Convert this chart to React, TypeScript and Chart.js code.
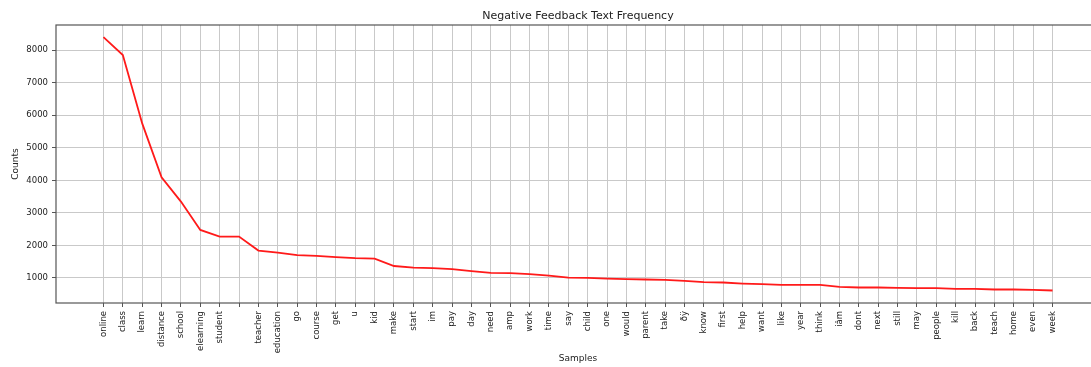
import { useEffect, useRef } from "react";
import { Chart, registerables } from "chart.js";

Chart.register(...registerables);

const chartTitle = "Negative Feedback Text Frequency";
const xAxisLabel = "Samples";
const yAxisLabel = "Counts";

const categories = [
  "online", "class", "learn", "distance", "school", "elearning", "student", "",
  "teacher", "education", "go", "course", "get", "u", "kid", "make", "start",
  "im", "pay", "day", "need", "amp", "work", "time", "say", "child", "one",
  "would", "parent", "take", "ðÿ", "know", "first", "help", "want", "like",
  "year", "think", "iâm", "dont", "next", "still", "may", "people", "kill",
  "back", "teach", "home", "even", "week",
];

const counts = [
  8400, 7850, 5750, 4095, 3345, 2475, 2270, 2270,
  1840, 1778, 1698, 1676, 1636, 1605, 1594, 1365, 1318,
  1298, 1268, 1206, 1154, 1144, 1114, 1072, 1011, 1000, 980,
  960, 950, 940, 909, 868, 858, 826, 806, 786,
  786, 786, 725, 704, 704, 694, 684, 684, 663,
  663, 643, 643, 633, 612,
];

const yTickValues = [1000, 2000, 3000, 4000, 5000, 6000, 7000, 8000];

const FONT = "'DejaVu Sans', sans-serif";
const TEXT = "#222";
const GRID = "#c9c9c9";
const SPINE = "#555";

const framePlugin = {
  id: "frame",
  afterDraw(chart: any) {
    const { ctx, chartArea } = chart;
    const { left, top, right, bottom } = chartArea;
    ctx.save();
    ctx.strokeStyle = SPINE;
    ctx.lineWidth = 1.2;
    ctx.strokeRect(left, top, right - left, bottom - top);
    ctx.restore();
  },
};

export default function App() {
  const canvasRef = useRef<HTMLCanvasElement | null>(null);

  useEffect(() => {
    const canvas = canvasRef.current;
    if (!canvas) return;
    const n = categories.length;
    const margin = (n - 1) * 0.05;
    const chart = new Chart(canvas, {
      type: "line",
      data: {
        datasets: [
          {
            label: "Counts",
            data: counts.map((v, i) => ({ x: i, y: v })),
            borderColor: "#ff1a1a",
            borderWidth: 1.8,
            pointRadius: 0,
            tension: 0,
            fill: false,
          },
        ],
      },
      options: {
        animation: false,
        responsive: false,
        devicePixelRatio: 1,
        layout: { padding: 0 },
        plugins: {
          legend: { display: false },
          tooltip: { enabled: false },
          title: {
            display: true,
            text: chartTitle,
            fullSize: false,
            color: TEXT,
            font: { family: FONT, size: 11, weight: "normal", lineHeight: 1.2 },
            padding: { top: 9.4, bottom: 2.4 },
          },
        },
        scales: {
          x: {
            type: "linear",
            min: -margin,
            max: n - 1 + margin,
            afterBuildTicks: (axis: any) => {
              axis.ticks = categories.map((_, i) => ({ value: i }));
            },
            afterFit: (scale: any) => {
              scale.height = 64;
            },
            ticks: {
              autoSkip: false,
              minRotation: 90,
              maxRotation: 90,
              padding: 4,
              color: TEXT,
              font: { family: FONT, size: 8.5 },
              callback: (value: any) => categories[value as number] ?? "",
            },
            grid: {
              color: GRID,
              lineWidth: 1,
              tickLength: 4,
              tickColor: SPINE,
            },
            border: { display: false },
            title: {
              display: true,
              text: xAxisLabel,
              color: TEXT,
              font: { family: FONT, size: 9, lineHeight: 1.2 },
              padding: { top: 0, bottom: 3 },
            },
          },
          y: {
            type: "linear",
            min: 228,
            max: 8775,
            afterBuildTicks: (axis: any) => {
              axis.ticks = yTickValues.map((v) => ({ value: v }));
            },
            afterFit: (scale: any) => {
              scale.width = 56;
            },
            ticks: {
              padding: 4,
              color: TEXT,
              font: { family: FONT, size: 8.5 },
              callback: (value: any) => String(value),
            },
            grid: {
              color: GRID,
              lineWidth: 1,
              tickLength: 4,
              tickColor: SPINE,
            },
            border: { display: false },
            title: {
              display: true,
              text: yAxisLabel,
              color: TEXT,
              font: { family: FONT, size: 9, lineHeight: 1.2 },
              padding: { top: 10, bottom: 0 },
            },
          },
        },
      },
      plugins: [framePlugin],
    } as any);
    return () => chart.destroy();
  }, []);

  return (
    <div
      style={{
        position: "absolute",
        left: 0,
        top: 0,
        width: 1091,
        height: 367,
        overflow: "hidden",
        background: "#fff",
      }}
    >
      <canvas
        ref={canvasRef}
        width={1100}
        height={367}
        style={{ display: "block", width: 1100, height: 367 }}
      />
    </div>
  );
}
